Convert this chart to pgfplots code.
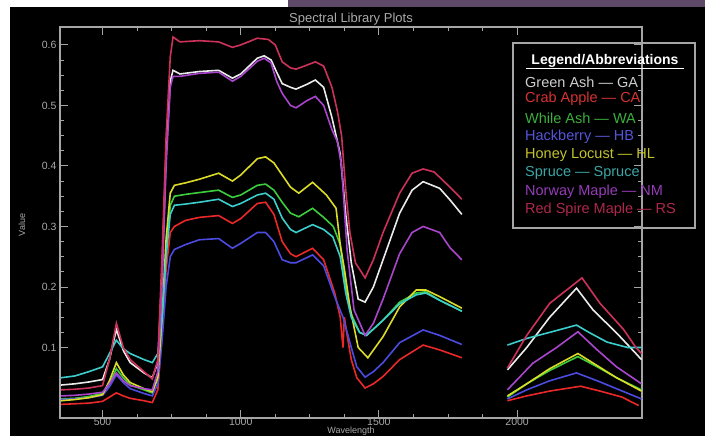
\documentclass[border=0pt]{standalone}
\usepackage{fontspec}
\setmainfont{Liberation Sans}
\usepackage{pgfplots}
\pgfplotsset{compat=1.18}

\definecolor{axgray}{RGB}{165,165,165}
\definecolor{txtgray}{RGB}{170,170,170}
\definecolor{slidepurple}{RGB}{94,74,104}
% series colours
\definecolor{cGA}{RGB}{235,235,235}
\definecolor{cCA}{RGB}{235,40,40}
\definecolor{cWA}{RGB}{60,205,60}
\definecolor{cHB}{RGB}{75,75,225}
\definecolor{cHL}{RGB}{220,220,40}
\definecolor{cSP}{RGB}{60,205,205}
\definecolor{cNM}{RGB}{170,70,205}
\definecolor{cRS}{RGB}{205,50,90}
% legend text colours
\definecolor{tGA}{RGB}{205,205,205}
\definecolor{tCA}{RGB}{215,50,50}
\definecolor{tWA}{RGB}{60,175,60}
\definecolor{tHB}{RGB}{85,85,220}
\definecolor{tHL}{RGB}{195,195,45}
\definecolor{tSP}{RGB}{60,165,165}
\definecolor{tNM}{RGB}{150,60,185}
\definecolor{tRS}{RGB}{175,40,75}

\begin{document}
\begin{tikzpicture}[x=1pt,y=1pt]
\useasboundingbox (0,0) rectangle (705,436);
\clip (0,0) rectangle (705,436);
\fill[white] (0,0) rectangle (705,436);
\fill[slidepurple] (288,429) rectangle (705,436);
\fill[black] (10,0) rectangle (705,429);

\begin{axis}[
    at={(60pt,18pt)}, anchor=south west,
    scale only axis, width=582pt, height=391pt,
    xmin=346, xmax=2452,
    ymin=-0.0165, ymax=0.6296,
    unbounded coords=jump,
    axis line style={draw=axgray, line width=1.1pt},
    tick style={draw=axgray, line width=0.9pt},
    tick align=inside,
    major tick length=8pt, minor tick length=4pt,
    xtick={500,1000,1500,2000},
    xticklabels={500,1000,1500,2000},
    minor x tick num=3,
    ytick={0.1,0.2,0.3,0.4,0.5,0.6},
    yticklabels={0.1,0.2,0.3,0.4,0.5,0.6},
    minor y tick num=3,
    /pgf/number format/assume math mode=true,
    ticklabel style={text=txtgray, font=\fontsize{10.5}{12}\selectfont},
    xticklabel style={yshift=3pt},
    title={Spectral Library Plots},
    title style={at={(0.5,1)}, anchor=center, yshift=2pt, text=txtgray, font=\fontsize{13}{15}\selectfont},
    xlabel={Wavelength},
    xlabel style={at={(0.5,0)}, anchor=center, yshift=-13.5pt, text=txtgray, font=\fontsize{9}{10}\selectfont},
    ylabel={Value},
    ylabel style={at={(0,0.494)}, anchor=center, yshift=38pt, text=txtgray, font=\fontsize{9}{11}\selectfont},
    every axis plot/.append style={line width=1.6pt, mark=none},
]
% Green Ash (GA)
\addplot[cGA] coordinates {
(350,0.038) (400,0.040) (450,0.043) (500,0.047) (525,0.080) (550,0.130) (575,0.095) (600,0.075) (650,0.058) (680,0.050)
(700,0.075) (715,0.22) (730,0.42) (745,0.54) (755,0.558) (780,0.552) (850,0.556) (920,0.558) (970,0.545) (1000,0.552)
(1060,0.578) (1085,0.582) (1110,0.575) (1130,0.555) (1150,0.536) (1180,0.530) (1200,0.527) (1240,0.535) (1270,0.542)
(1300,0.530) (1330,0.48) (1345,0.45) (1360,0.42) (1380,0.32) (1400,0.24) (1425,0.18) (1450,0.175) (1480,0.20)
(1515,0.245) (1575,0.322) (1620,0.36) (1660,0.374) (1720,0.363) (1757,0.344) (1800,0.32)
(1875,nan)
(1965,0.063) (2035,0.10) (2118,0.15) (2215,0.198) (2275,0.162) (2360,0.124) (2430,0.09) (2450,0.08)
};
% Crab Apple (CA)
\addplot[cCA] coordinates {
(350,0.006) (400,0.007) (450,0.008) (500,0.011) (525,0.018) (550,0.025) (575,0.020) (600,0.016) (650,0.012) (680,0.009)
(700,0.03) (715,0.12) (730,0.23) (745,0.29) (760,0.30) (800,0.31) (850,0.315) (920,0.318) (970,0.305) (1000,0.313)
(1060,0.338) (1090,0.34) (1120,0.32) (1150,0.275) (1180,0.255) (1200,0.25) (1260,0.264) (1300,0.245) (1340,0.19)
(1360,0.15) (1370,0.10) (1375,0.15) (1385,0.12) (1400,0.08) (1420,0.05) (1450,0.033) (1480,0.04) (1515,0.052)
(1575,0.08) (1660,0.104) (1720,0.096) (1800,0.083)
(1875,nan)
(1965,0.012) (2035,0.02) (2118,0.028) (2230,0.036) (2300,0.028) (2380,0.018) (2440,0.004)
};
% While Ash (WA)
\addplot[cWA] coordinates {
(350,0.015) (400,0.016) (450,0.019) (500,0.024) (525,0.040) (550,0.065) (575,0.050) (600,0.038) (650,0.030) (680,0.025)
(700,0.05) (715,0.14) (730,0.26) (745,0.335) (760,0.35) (800,0.353) (850,0.356) (920,0.36) (970,0.348) (1000,0.352)
(1060,0.368) (1090,0.37) (1120,0.36) (1150,0.34) (1180,0.322) (1210,0.316) (1260,0.33) (1300,0.315) (1335,0.30)
(1360,0.27) (1380,0.20) (1400,0.155) (1430,0.125) (1455,0.12) (1515,0.145) (1575,0.175) (1635,0.19) (1670,0.192)
(1720,0.178) (1800,0.16)
(1875,nan)
(1965,0.018) (2035,0.04) (2118,0.062) (2220,0.085) (2290,0.068) (2360,0.05) (2450,0.03)
};
% Hackberry (HB)
\addplot[cHB] coordinates {
(350,0.014) (400,0.015) (450,0.017) (500,0.021) (525,0.035) (550,0.055) (575,0.042) (600,0.032) (650,0.024) (680,0.020)
(700,0.04) (715,0.11) (730,0.20) (745,0.25) (760,0.262) (800,0.27) (850,0.278) (920,0.28) (970,0.264) (1000,0.272)
(1060,0.29) (1090,0.29) (1120,0.275) (1150,0.245) (1180,0.24) (1200,0.24) (1260,0.253) (1300,0.235) (1340,0.184)
(1370,0.15) (1385,0.125) (1400,0.10) (1420,0.068) (1450,0.051) (1480,0.06) (1515,0.075) (1575,0.108) (1660,0.129)
(1720,0.12) (1800,0.105)
(1875,nan)
(1965,0.015) (2035,0.03) (2118,0.045) (2215,0.058) (2290,0.045) (2370,0.03) (2450,0.015)
};
% Honey Locust (HL)
\addplot[cHL] coordinates {
(350,0.012) (400,0.014) (450,0.017) (500,0.022) (525,0.045) (550,0.075) (575,0.055) (600,0.042) (650,0.032) (680,0.027)
(700,0.05) (715,0.15) (730,0.28) (745,0.355) (760,0.368) (800,0.372) (850,0.378) (920,0.388) (970,0.375) (1000,0.385)
(1060,0.412) (1090,0.415) (1120,0.405) (1150,0.385) (1180,0.365) (1210,0.355) (1260,0.373) (1310,0.352) (1345,0.33)
(1360,0.27) (1375,0.23) (1395,0.167) (1425,0.10) (1460,0.083) (1515,0.118) (1575,0.167) (1635,0.195) (1670,0.195)
(1720,0.184) (1800,0.165)
(1875,nan)
(1965,0.02) (2035,0.04) (2118,0.065) (2220,0.09) (2290,0.07) (2360,0.05) (2450,0.028)
};
% Spruce
\addplot[cSP] coordinates {
(350,0.050) (400,0.053) (450,0.060) (500,0.068) (525,0.090) (550,0.112) (575,0.098) (600,0.090) (650,0.080) (680,0.075)
(700,0.09) (715,0.15) (730,0.25) (745,0.32) (760,0.335) (800,0.337) (850,0.34) (920,0.345) (970,0.333) (1000,0.338)
(1060,0.352) (1090,0.355) (1120,0.345) (1150,0.314) (1180,0.295) (1200,0.29) (1260,0.303) (1300,0.295) (1333,0.283)
(1360,0.25) (1380,0.19) (1400,0.15) (1430,0.125) (1455,0.12) (1515,0.145) (1575,0.172) (1635,0.187) (1670,0.19)
(1720,0.178) (1800,0.16)
(1875,nan)
(1965,0.104) (2035,0.115) (2118,0.125) (2215,0.137) (2260,0.125) (2325,0.109) (2400,0.10) (2450,0.10)
};
% Norway Maple (NM)
\addplot[cNM] coordinates {
(350,0.020) (400,0.021) (450,0.023) (500,0.026) (525,0.040) (550,0.058) (575,0.045) (600,0.037) (650,0.032) (680,0.030)
(700,0.06) (715,0.20) (730,0.40) (745,0.53) (755,0.548) (780,0.548) (850,0.553) (920,0.555) (970,0.54) (1000,0.548)
(1060,0.573) (1085,0.578) (1110,0.57) (1130,0.54) (1150,0.52) (1180,0.50) (1200,0.496) (1240,0.508) (1270,0.515)
(1300,0.50) (1330,0.46) (1350,0.44) (1365,0.40) (1385,0.26) (1410,0.162) (1450,0.12) (1480,0.14) (1515,0.18)
(1575,0.255) (1620,0.29) (1660,0.30) (1720,0.29) (1757,0.265) (1800,0.245)
(1875,nan)
(1965,0.03) (2057,0.074) (2143,0.10) (2220,0.126) (2290,0.096) (2360,0.068) (2450,0.04)
};
% Red Spire Maple (RS)
\addplot[cRS] coordinates {
(350,0.030) (400,0.031) (450,0.033) (500,0.037) (525,0.080) (550,0.140) (575,0.100) (600,0.080) (650,0.060) (680,0.048)
(700,0.08) (715,0.25) (730,0.45) (745,0.58) (755,0.613) (780,0.605) (850,0.607) (920,0.605) (970,0.596) (1000,0.600)
(1060,0.611) (1100,0.609) (1125,0.60) (1150,0.572) (1180,0.562) (1200,0.560) (1230,0.565) (1270,0.572) (1300,0.565)
(1330,0.53) (1350,0.49) (1365,0.45) (1380,0.36) (1395,0.29) (1415,0.24) (1450,0.215) (1480,0.245) (1515,0.29)
(1575,0.355) (1620,0.388) (1660,0.395) (1700,0.39) (1757,0.365) (1800,0.345)
(1875,nan)
(1965,0.066) (2035,0.12) (2118,0.173) (2235,0.215) (2300,0.173) (2385,0.13) (2430,0.10) (2450,0.09)
};
\end{axis}

% legend box with coloured abbreviations
\draw[axgray, line width=1.4pt] (513,208) rectangle (695,393);
\node[anchor=center, text=white, font=\bfseries\fontsize{14}{16}\selectfont] at (605,375) {Legend/Abbreviations};
\draw[white, line width=1pt] (526,367) -- (684,367);
\begin{scope}[every node/.style={anchor=west, font=\fontsize{14.5}{16}\selectfont, inner sep=0pt}]
\node[text=tGA]  at (525,354) {Green Ash — GA};
\node[text=tCA]  at (525,337) {Crab Apple — CA};
\node[text=tWA]  at (525,318) {While Ash — WA};
\node[text=tHB]  at (525,299) {Hackberry — HB};
\node[text=tHL]  at (525,281) {Honey Locust — HL};
\node[text=tSP]  at (525,263) {Spruce — Spruce};
\node[text=tNM]  at (525,244) {Norway Maple — NM};
\node[text=tRS]  at (525,226) {Red Spire Maple — RS};
\end{scope}
\end{tikzpicture}
\end{document}
